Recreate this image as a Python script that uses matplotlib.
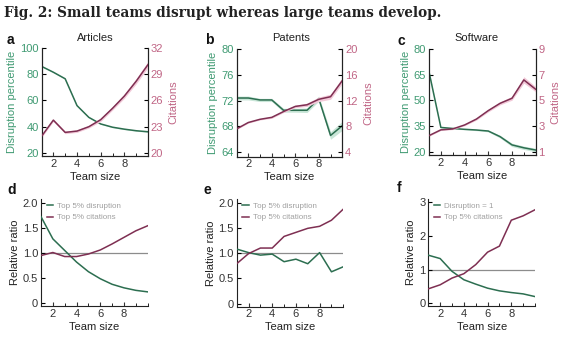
import numpy as np
import matplotlib.pyplot as plt
from matplotlib.ticker import FixedLocator, MultipleLocator

plt.rcParams['font.family'] = ['Liberation Sans', 'DejaVu Sans']

team = [1, 2, 3, 4, 5, 6, 7, 8, 9, 10]
team_ticks = [2, 4, 6, 8]

# top row: disruption percentile (left axis) and citations (right axis)
art_disr = [86.0, 81.5, 76.5, 56.0, 47.0, 42.0, 39.5, 38.0, 36.8, 36.0]
art_cite = [21.9, 23.75, 22.35, 22.5, 23.0, 23.8, 25.1, 26.5, 28.2, 30.1]
art_disr_err = [0.4, 0.4, 0.4, 0.4, 0.4, 0.4, 0.4, 0.4, 0.4, 0.4]
art_cite_err = [0.15, 0.15, 0.15, 0.15, 0.15, 0.2, 0.2, 0.25, 0.3, 0.35]

pat_disr = [72.4, 72.4, 72.1, 72.1, 70.5, 70.5, 70.5, 72.3, 66.6, 68.1]
pat_cite = [7.6, 8.6, 9.1, 9.4, 10.3, 11.1, 11.35, 12.2, 12.6, 15.1]
pat_disr_err = [0.3, 0.3, 0.25, 0.25, 0.3, 0.3, 0.35, 0.4, 0.6, 0.7]
pat_cite_err = [0.1, 0.1, 0.1, 0.15, 0.15, 0.2, 0.25, 0.35, 0.4, 0.45]

sw_disr = [66.7, 34.2, 33.6, 33.1, 32.7, 32.1, 28.8, 24.0, 22.3, 21.0]
sw_cite = [2.25, 2.7, 2.77, 3.08, 3.54, 4.2, 4.77, 5.16, 6.59, 5.86]
sw_disr_err = [0.4, 0.3, 0.3, 0.3, 0.4, 0.5, 0.8, 1.0, 1.0, 1.0]
sw_cite_err = [0.05, 0.05, 0.05, 0.06, 0.08, 0.1, 0.12, 0.15, 0.25, 0.2]

# bottom row: relative ratios
rel_d_disr = [1.72, 1.28, 1.05, 0.82, 0.63, 0.49, 0.38, 0.31, 0.26, 0.23]
rel_d_cite = [0.95, 1.01, 0.93, 0.93, 0.98, 1.06, 1.18, 1.31, 1.44, 1.54]
rel_e_disr = [1.08, 1.01, 0.96, 0.98, 0.83, 0.88, 0.79, 1.01, 0.63, 0.73]
rel_e_cite = [0.79, 0.99, 1.10, 1.10, 1.33, 1.41, 1.49, 1.53, 1.65, 1.87]
rel_f_disr = [1.43, 1.33, 0.95, 0.70, 0.57, 0.45, 0.37, 0.32, 0.28, 0.20]
rel_f_cite = [0.43, 0.55, 0.75, 0.88, 1.15, 1.52, 1.70, 2.47, 2.60, 2.78]

GREEN = '#2c6e50'
PINK = '#7e2f52'
GREEN_TXT = '#3f9a72'
PINK_TXT = '#c06585'
GREEN_BAND = '#c9e6d8'
PINK_BAND = '#f2c9d8'
TICK = '#333333'
FS = 8

W, H = 564, 339
fig = plt.figure(figsize=(W / 100, H / 100), dpi=100)


def box(l, t, r, b):
    return [l / W, 1 - b / H, (r - l) / W, (b - t) / H]


def style_x(ax):
    ax.set_xlim(1, 10)
    ax.xaxis.set_major_locator(FixedLocator(team_ticks))
    ax.xaxis.set_minor_locator(MultipleLocator(1))
    ax.tick_params(axis='x', direction='in', length=3, width=0.8, pad=2,
                   labelsize=FS, colors=TICK, which='major')
    ax.tick_params(axis='x', direction='in', length=2, width=0.6, which='minor')
    ax.set_xlabel('Team size', fontsize=FS, color='#222222', labelpad=2)


def top_panel(rect, disr, derr, cite, cerr, ylim_l, ticks_l, ylim_r, ticks_r):
    ax = fig.add_axes(rect)
    ax2 = ax.twinx()
    d = np.array(disr)
    c = np.array(cite)
    ax.fill_between(team, d - np.array(derr), d + np.array(derr),
                    color=GREEN_BAND, lw=0, zorder=1)
    ax.plot(team, disr, color=GREEN, lw=1.1, zorder=3)
    ax2.fill_between(team, c - np.array(cerr), c + np.array(cerr),
                     color=PINK_BAND, lw=0, zorder=1)
    ax2.plot(team, cite, color=PINK, lw=1.1, zorder=3)
    ax.set_ylim(*ylim_l)
    ax.set_yticks(ticks_l)
    ax2.set_ylim(*ylim_r)
    ax2.set_yticks(ticks_r)
    for a in (ax, ax2):
        a.spines['top'].set_visible(False)
        for s in a.spines.values():
            s.set_linewidth(0.8)
            s.set_color('#222222')
    ax.tick_params(axis='y', direction='in', length=3, width=0.8, pad=2,
                   labelsize=FS, labelcolor=GREEN_TXT)
    ax2.tick_params(axis='y', direction='in', length=3, width=0.8, pad=2,
                    labelsize=FS, labelcolor=PINK_TXT)
    ax.set_ylabel('Disruption percentile', fontsize=FS, color=GREEN_TXT, labelpad=2)
    ax2.set_ylabel('Citations', fontsize=FS, color=PINK_TXT, labelpad=4)
    style_x(ax)
    return ax


def bottom_panel(rect, disr, cite, labels, ylim, ticks, ticklabels):
    ax = fig.add_axes(rect)
    ax.axhline(1, color='#8c8c8c', lw=0.9, zorder=1)
    ax.plot(team, disr, color=GREEN, lw=1.1, label=labels[0], zorder=3)
    ax.plot(team, cite, color=PINK, lw=1.1, label=labels[1], zorder=3)
    ax.set_ylim(*ylim)
    ax.set_yticks(ticks)
    ax.set_yticklabels(ticklabels)
    for s in ('top', 'right'):
        ax.spines[s].set_visible(False)
    for s in ('left', 'bottom'):
        ax.spines[s].set_linewidth(0.8)
        ax.spines[s].set_color('#222222')
    ax.tick_params(axis='y', direction='in', length=3, width=0.8, pad=2,
                   labelsize=FS, labelcolor=TICK)
    ax.set_ylabel('Relative ratio', fontsize=FS, color='#222222', labelpad=2)
    style_x(ax)
    ax.legend(loc='upper left', bbox_to_anchor=(0.0, 1.02), frameon=False,
              fontsize=5.8, handlelength=0.8, handletextpad=0.5,
              labelspacing=0.45, borderaxespad=0.3, labelcolor='#a0a0a0')
    return ax


top_panel(box(41.5, 48, 148, 156), art_disr, art_disr_err, art_cite, art_cite_err,
          (17.5, 100), [20, 40, 60, 80, 100], (19.65, 32), [20, 23, 26, 29, 32])
top_panel(box(236.5, 49, 342.3, 156.7), pat_disr, pat_disr_err, pat_cite, pat_cite_err,
          (63.3, 80), [64, 68, 72, 76, 80], (3.3, 20), [4, 8, 12, 16, 20])
top_panel(box(429, 49, 535.7, 155), sw_disr, sw_disr_err, sw_cite, sw_cite_err,
          (18.1, 80), [20, 35, 50, 65, 80], (0.74, 9), [1, 3, 5, 7, 9])

bottom_panel(box(41, 199, 147.7, 306), rel_d_disr, rel_d_cite,
             ['Top 5% disruption', 'Top 5% citations'], (-0.05, 2.07),
             [0, 0.5, 1.0, 1.5, 2.0], ['0', '0.5', '1.0', '1.5', '2.0'])
bottom_panel(box(236.7, 199, 343.3, 306.7), rel_e_disr, rel_e_cite,
             ['Top 5% disruption', 'Top 5% citations'], (-0.06, 2.07),
             [0, 0.5, 1.0, 1.5, 2.0], ['0', '0.5', '1.0', '1.5', '2.0'])
bottom_panel(box(428.3, 199, 535, 306), rel_f_disr, rel_f_cite,
             ['Disruption = 1', 'Top 5% citations'], (-0.08, 3.1),
             [0, 1, 2, 3], ['0', '1', '2', '3'])

fig.text(4 / W, 1 - 13 / H, 'Fig. 2: Small teams disrupt whereas large teams develop.',
         family='DejaVu Serif', fontweight='bold', fontsize=9.8, color='#222222',
         va='center', ha='left')

for lab, x, y in [('a', 7, 40), ('b', 205, 40), ('c', 397, 41),
                  ('d', 7, 190), ('e', 204, 190), ('f', 397, 188)]:
    fig.text(x / W, 1 - y / H, lab, fontsize=10, fontweight='bold',
             color='#111111', ha='left', va='center')

for name, x in [('Articles', 95), ('Patents', 290.7), ('Software', 476.7)]:
    fig.text(x / W, 1 - 38 / H, name, fontsize=FS, color='#222222',
             ha='center', va='center')

fig.savefig('out.png', dpi=100, facecolor='white')
